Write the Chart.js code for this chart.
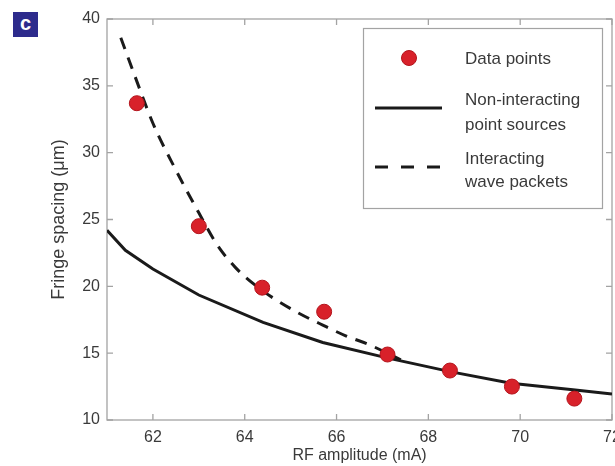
<!DOCTYPE html>
<html>
<head>
<meta charset="utf-8">
<script src="https://cdn.jsdelivr.net/npm/chart.js@4"></script>
<style>
  html, body { margin: 0; padding: 0; background: #fff; overflow: hidden; width: 615px; height: 466px; }
  #wrap { position: absolute; left: 0; top: 0; width: 640px; height: 466px; }
  #tag {
    position: absolute; left: 13px; top: 12px; width: 25px; height: 25px;
    background: #2d2b8c; color: #fff; font: bold 20px "Liberation Sans", Arial, sans-serif;
    text-align: center; line-height: 22px;
  }
</style>
</head>
<body>
<div id="wrap"><canvas id="c" width="640" height="466"></canvas></div>
<div id="tag">c</div>
<script>
// measured fringe spacing
const dataX = [61.65, 63.0, 64.38, 65.73, 67.11, 68.47, 69.82, 71.18];
const dataY = [33.7, 24.5, 19.9, 18.1, 14.9, 13.7, 12.5, 11.6];

// model: non-interacting point sources
const pointSrcX = [61.0, 61.4, 62.0, 63.0, 64.4, 65.7, 67.1, 68.5, 69.8, 71.2, 72.0];
const pointSrcY = [24.2, 22.7, 21.3, 19.35, 17.3, 15.8, 14.65, 13.6, 12.75, 12.25, 11.95];

// model: interacting wave packets
const wavePktX = [61.3, 61.6, 62.0, 62.5, 63.0, 63.4, 63.8, 64.3, 64.7, 65.2, 65.7, 66.2, 66.7, 67.4];
const wavePktY = [38.6, 35.8, 32.2, 28.7, 25.5, 23.1, 21.4, 19.9, 18.95, 17.95, 17.1, 16.3, 15.65, 14.5];

const xTicks = [62, 64, 66, 68, 70, 72];
const yTicks = [10, 15, 20, 25, 30, 35, 40];

const FONT = '"Liberation Sans", Arial, sans-serif';
const TEXT = '#3a3a3a';
const FRAME = '#a3a3a3';
const RED = '#d8212a';

const pts = (xs, ys) => xs.map((x, i) => ({ x, y: ys[i] }));

// box around the axes with inward tick marks on all four sides
const framePlugin = {
  id: 'frame',
  beforeDatasetsDraw(chart) {
    const { ctx, chartArea: a, scales } = chart;
    ctx.save();
    ctx.strokeStyle = FRAME;
    ctx.lineWidth = 1.3;
    ctx.strokeRect(a.left, a.top, a.right - a.left, a.bottom - a.top);
    ctx.beginPath();
    xTicks.forEach(v => {
      const px = scales.x.getPixelForValue(v);
      ctx.moveTo(px, a.bottom); ctx.lineTo(px, a.bottom - 6);
      ctx.moveTo(px, a.top); ctx.lineTo(px, a.top + 6);
    });
    yTicks.forEach(v => {
      const py = scales.y.getPixelForValue(v);
      ctx.moveTo(a.left, py); ctx.lineTo(a.left + 6, py);
      ctx.moveTo(a.right, py); ctx.lineTo(a.right - 6, py);
    });
    ctx.stroke();
    ctx.restore();
  }
};

// boxed legend in the upper right
const legendPlugin = {
  id: 'boxLegend',
  afterDraw(chart) {
    const ctx = chart.ctx;
    ctx.save();
    ctx.fillStyle = '#fff';
    ctx.fillRect(363, 28, 239, 180);
    ctx.strokeStyle = FRAME;
    ctx.lineWidth = 1.2;
    ctx.strokeRect(363.5, 28.5, 239, 180);

    ctx.fillStyle = RED;
    ctx.strokeStyle = '#b3141c';
    ctx.lineWidth = 1;
    ctx.beginPath();
    ctx.arc(409, 58, 7.5, 0, Math.PI * 2);
    ctx.fill();
    ctx.stroke();

    ctx.strokeStyle = '#1a1a1a';
    ctx.lineWidth = 3;
    ctx.beginPath();
    ctx.moveTo(375, 108); ctx.lineTo(442, 108);
    ctx.stroke();
    ctx.setLineDash([13, 13]);
    ctx.beginPath();
    ctx.moveTo(375, 167); ctx.lineTo(442, 167);
    ctx.stroke();
    ctx.setLineDash([]);

    ctx.fillStyle = TEXT;
    ctx.font = '17px ' + FONT;
    ctx.textBaseline = 'middle';
    ctx.textAlign = 'left';
    ctx.fillText('Data points', 465, 59);
    ctx.fillText('Non-interacting', 465, 100);
    ctx.fillText('point sources', 465, 125);
    ctx.fillText('Interacting', 465, 159);
    ctx.fillText('wave packets', 465, 182);
    ctx.restore();
  }
};

new Chart(document.getElementById('c'), {
  type: 'scatter',
  data: {
    datasets: [
      {
        label: 'Data points',
        data: pts(dataX, dataY),
        pointRadius: 7.5,
        pointBackgroundColor: RED,
        pointBorderColor: '#b3141c',
        pointBorderWidth: 1,
        showLine: false
      },
      {
        label: 'Non-interacting point sources',
        data: pts(pointSrcX, pointSrcY),
        showLine: true,
        borderColor: '#1a1a1a',
        borderWidth: 3,
        pointRadius: 0,
        tension: 0
      },
      {
        label: 'Interacting wave packets',
        data: pts(wavePktX, wavePktY),
        showLine: true,
        borderColor: '#1a1a1a',
        borderWidth: 3,
        borderDash: [12, 9],
        pointRadius: 0,
        cubicInterpolationMode: 'monotone'
      }
    ]
  },
  options: {
    responsive: false,
    animation: false,
    events: [],
    layout: { padding: { top: 19, right: 28, left: 0, bottom: 0 } },
    plugins: { legend: { display: false }, tooltip: { enabled: false } },
    scales: {
      x: {
        type: 'linear',
        min: 61, max: 72,
        afterBuildTicks: s => { s.ticks = xTicks.map(v => ({ value: v })); },
        afterFit: s => { s.height = 46; },
        grid: { display: false, drawTicks: false },
        border: { display: false },
        ticks: { color: TEXT, font: { family: FONT, size: 16 }, padding: 8, maxRotation: 0 },
        title: {
          display: true, text: 'RF amplitude (mA)', color: TEXT,
          font: { family: FONT, size: 16 }, padding: { top: 0, bottom: 1 }
        }
      },
      y: {
        type: 'linear',
        min: 10, max: 40,
        afterBuildTicks: s => { s.ticks = yTicks.map(v => ({ value: v })); },
        afterFit: s => { s.width = 107; },
        grid: { display: false, drawTicks: false },
        border: { display: false },
        ticks: { color: TEXT, font: { family: FONT, size: 16 }, padding: 7 },
        title: {
          display: true, text: 'Fringe spacing (μm)', color: TEXT,
          font: { family: FONT, size: 18 }, padding: { top: 48, bottom: 0 }
        }
      }
    }
  },
  plugins: [framePlugin, legendPlugin]
});
</script>
</body>
</html>
